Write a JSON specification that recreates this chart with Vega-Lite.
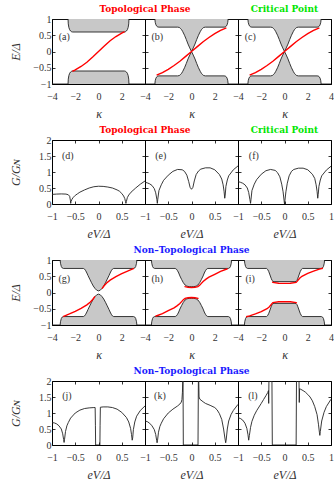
{
"$schema": "https://vega.github.io/schema/vega-lite/v6.json",
"padding": {"left": 9, "top": 0, "right": 2, "bottom": 0},
"config": {
 "view": {"stroke": null},
 "axis": {"domain": true, "domainColor": "black", "domainWidth": 1, "grid": false, "tickSize": -3, "tickColor": "black", "tickWidth": 0.8, "labelFont": "Liberation Serif, serif", "labelFontSize": 10, "labelColor": "#333", "labelPadding": 4, "labelFlush": false, "labelOverlap": false, "titleFont": "Liberation Serif, serif", "titleFontStyle": "italic", "titleFontWeight": "normal", "titleFontSize": 12, "titleColor": "#333", "format": "~g", "zindex": 1},
 "axisY": {"minExtent": 26, "maxExtent": 26, "titlePadding": 4},
 "axisX": {"titlePadding": 7, "labelPadding": 10},
 "title": {"font": "DejaVu Serif, serif", "fontSize": 9, "fontWeight": "bold", "offset": 5, "anchor": "middle", "frame": "group"}
},
"datasets": {
"band": [
{"p":"a","s":"t","k":-4,"v":1},{"p":"a","s":"t","k":-2.62,"v":1},{"p":"a","s":"t","k":-2.6,"v":0.85},{"p":"a","s":"t","k":-2.55,"v":0.74},{"p":"a","s":"t","k":-2.48,"v":0.67},{"p":"a","s":"t","k":-2.4,"v":0.63},{"p":"a","s":"t","k":-2.3,"v":0.605},{"p":"a","s":"t","k":-2.22,"v":0.6},{"p":"a","s":"t","k":2.22,"v":0.6},{"p":"a","s":"t","k":2.3,"v":0.605},{"p":"a","s":"t","k":2.4,"v":0.63},{"p":"a","s":"t","k":2.48,"v":0.67},{"p":"a","s":"t","k":2.55,"v":0.74},{"p":"a","s":"t","k":2.6,"v":0.85},{"p":"a","s":"t","k":2.62,"v":1},{"p":"a","s":"t","k":4,"v":1},
{"p":"a","s":"b","k":-4,"v":-1},{"p":"a","s":"b","k":-2.62,"v":-1},{"p":"a","s":"b","k":-2.6,"v":-0.85},{"p":"a","s":"b","k":-2.55,"v":-0.74},{"p":"a","s":"b","k":-2.48,"v":-0.67},{"p":"a","s":"b","k":-2.4,"v":-0.63},{"p":"a","s":"b","k":-2.3,"v":-0.605},{"p":"a","s":"b","k":-2.22,"v":-0.6},{"p":"a","s":"b","k":2.22,"v":-0.6},{"p":"a","s":"b","k":2.3,"v":-0.605},{"p":"a","s":"b","k":2.4,"v":-0.63},{"p":"a","s":"b","k":2.48,"v":-0.67},{"p":"a","s":"b","k":2.55,"v":-0.74},{"p":"a","s":"b","k":2.6,"v":-0.85},{"p":"a","s":"b","k":2.62,"v":-1},{"p":"a","s":"b","k":4,"v":-1},
{"p":"b","s":"t","k":-4,"v":1},{"p":"b","s":"t","k":-3.15,"v":1},{"p":"b","s":"t","k":-3.12,"v":0.9},{"p":"b","s":"t","k":-3.06,"v":0.82},{"p":"b","s":"t","k":-2.98,"v":0.775},{"p":"b","s":"t","k":-2.9,"v":0.755},{"p":"b","s":"t","k":-2.8,"v":0.75},{"p":"b","s":"t","k":-1.2,"v":0.75},{"p":"b","s":"t","k":-1.05,"v":0.74},{"p":"b","s":"t","k":-0.95,"v":0.71},{"p":"b","s":"t","k":-0.85,"v":0.67},{"p":"b","s":"t","k":-0.75,"v":0.61},{"p":"b","s":"t","k":-0.6,"v":0.5},{"p":"b","s":"t","k":-0.45,"v":0.37},{"p":"b","s":"t","k":-0.3,"v":0.23},{"p":"b","s":"t","k":-0.15,"v":0.11},{"p":"b","s":"t","k":0,"v":0},{"p":"b","s":"t","k":0.15,"v":0.11},{"p":"b","s":"t","k":0.3,"v":0.23},{"p":"b","s":"t","k":0.45,"v":0.37},{"p":"b","s":"t","k":0.6,"v":0.5},{"p":"b","s":"t","k":0.75,"v":0.61},{"p":"b","s":"t","k":0.85,"v":0.67},{"p":"b","s":"t","k":0.95,"v":0.71},{"p":"b","s":"t","k":1.05,"v":0.74},{"p":"b","s":"t","k":1.2,"v":0.75},{"p":"b","s":"t","k":2.8,"v":0.75},{"p":"b","s":"t","k":2.9,"v":0.755},{"p":"b","s":"t","k":2.98,"v":0.775},{"p":"b","s":"t","k":3.06,"v":0.82},{"p":"b","s":"t","k":3.12,"v":0.9},{"p":"b","s":"t","k":3.15,"v":1},{"p":"b","s":"t","k":4,"v":1},
{"p":"b","s":"b","k":-4,"v":-1},{"p":"b","s":"b","k":-3.15,"v":-1},{"p":"b","s":"b","k":-3.12,"v":-0.9},{"p":"b","s":"b","k":-3.06,"v":-0.82},{"p":"b","s":"b","k":-2.98,"v":-0.775},{"p":"b","s":"b","k":-2.9,"v":-0.755},{"p":"b","s":"b","k":-2.8,"v":-0.75},{"p":"b","s":"b","k":-1.2,"v":-0.75},{"p":"b","s":"b","k":-1.05,"v":-0.74},{"p":"b","s":"b","k":-0.95,"v":-0.71},{"p":"b","s":"b","k":-0.85,"v":-0.67},{"p":"b","s":"b","k":-0.75,"v":-0.61},{"p":"b","s":"b","k":-0.6,"v":-0.5},{"p":"b","s":"b","k":-0.45,"v":-0.37},{"p":"b","s":"b","k":-0.3,"v":-0.23},{"p":"b","s":"b","k":-0.15,"v":-0.11},{"p":"b","s":"b","k":0,"v":0},{"p":"b","s":"b","k":0.15,"v":-0.11},{"p":"b","s":"b","k":0.3,"v":-0.23},{"p":"b","s":"b","k":0.45,"v":-0.37},{"p":"b","s":"b","k":0.6,"v":-0.5},{"p":"b","s":"b","k":0.75,"v":-0.61},{"p":"b","s":"b","k":0.85,"v":-0.67},{"p":"b","s":"b","k":0.95,"v":-0.71},{"p":"b","s":"b","k":1.05,"v":-0.74},{"p":"b","s":"b","k":1.2,"v":-0.75},{"p":"b","s":"b","k":2.8,"v":-0.75},{"p":"b","s":"b","k":2.9,"v":-0.755},{"p":"b","s":"b","k":2.98,"v":-0.775},{"p":"b","s":"b","k":3.06,"v":-0.82},{"p":"b","s":"b","k":3.12,"v":-0.9},{"p":"b","s":"b","k":3.15,"v":-1},{"p":"b","s":"b","k":4,"v":-1},
{"p":"g","s":"t","k":-4,"v":1},{"p":"g","s":"t","k":-3.3,"v":1},{"p":"g","s":"t","k":-3.27,"v":0.9},{"p":"g","s":"t","k":-3.2,"v":0.8},{"p":"g","s":"t","k":-3.12,"v":0.755},{"p":"g","s":"t","k":-3.02,"v":0.74},{"p":"g","s":"t","k":-1.3,"v":0.74},{"p":"g","s":"t","k":-1.2,"v":0.72},{"p":"g","s":"t","k":-1.1,"v":0.67},{"p":"g","s":"t","k":-1.0,"v":0.6},{"p":"g","s":"t","k":-0.9,"v":0.52},{"p":"g","s":"t","k":-0.75,"v":0.41},{"p":"g","s":"t","k":-0.6,"v":0.3},{"p":"g","s":"t","k":-0.45,"v":0.2},{"p":"g","s":"t","k":-0.3,"v":0.125},{"p":"g","s":"t","k":-0.15,"v":0.07},{"p":"g","s":"t","k":0,"v":0.05},{"p":"g","s":"t","k":0.15,"v":0.07},{"p":"g","s":"t","k":0.3,"v":0.125},{"p":"g","s":"t","k":0.45,"v":0.2},{"p":"g","s":"t","k":0.6,"v":0.3},{"p":"g","s":"t","k":0.75,"v":0.41},{"p":"g","s":"t","k":0.9,"v":0.52},{"p":"g","s":"t","k":1.0,"v":0.6},{"p":"g","s":"t","k":1.1,"v":0.67},{"p":"g","s":"t","k":1.2,"v":0.72},{"p":"g","s":"t","k":1.3,"v":0.74},{"p":"g","s":"t","k":3.02,"v":0.74},{"p":"g","s":"t","k":3.12,"v":0.755},{"p":"g","s":"t","k":3.2,"v":0.8},{"p":"g","s":"t","k":3.27,"v":0.9},{"p":"g","s":"t","k":3.3,"v":1},{"p":"g","s":"t","k":4,"v":1},
{"p":"g","s":"b","k":-4,"v":-1},{"p":"g","s":"b","k":-3.3,"v":-1},{"p":"g","s":"b","k":-3.27,"v":-0.9},{"p":"g","s":"b","k":-3.2,"v":-0.8},{"p":"g","s":"b","k":-3.12,"v":-0.755},{"p":"g","s":"b","k":-3.02,"v":-0.74},{"p":"g","s":"b","k":-1.3,"v":-0.74},{"p":"g","s":"b","k":-1.2,"v":-0.72},{"p":"g","s":"b","k":-1.1,"v":-0.67},{"p":"g","s":"b","k":-1.0,"v":-0.6},{"p":"g","s":"b","k":-0.9,"v":-0.52},{"p":"g","s":"b","k":-0.75,"v":-0.41},{"p":"g","s":"b","k":-0.6,"v":-0.3},{"p":"g","s":"b","k":-0.45,"v":-0.2},{"p":"g","s":"b","k":-0.3,"v":-0.125},{"p":"g","s":"b","k":-0.15,"v":-0.07},{"p":"g","s":"b","k":0,"v":-0.05},{"p":"g","s":"b","k":0.15,"v":-0.07},{"p":"g","s":"b","k":0.3,"v":-0.125},{"p":"g","s":"b","k":0.45,"v":-0.2},{"p":"g","s":"b","k":0.6,"v":-0.3},{"p":"g","s":"b","k":0.75,"v":-0.41},{"p":"g","s":"b","k":0.9,"v":-0.52},{"p":"g","s":"b","k":1.0,"v":-0.6},{"p":"g","s":"b","k":1.1,"v":-0.67},{"p":"g","s":"b","k":1.2,"v":-0.72},{"p":"g","s":"b","k":1.3,"v":-0.74},{"p":"g","s":"b","k":3.02,"v":-0.74},{"p":"g","s":"b","k":3.12,"v":-0.755},{"p":"g","s":"b","k":3.2,"v":-0.8},{"p":"g","s":"b","k":3.27,"v":-0.9},{"p":"g","s":"b","k":3.3,"v":-1},{"p":"g","s":"b","k":4,"v":-1},
{"p":"h","s":"t","k":-4,"v":1},{"p":"h","s":"t","k":-3.45,"v":1},{"p":"h","s":"t","k":-3.42,"v":0.9},{"p":"h","s":"t","k":-3.35,"v":0.8},{"p":"h","s":"t","k":-3.27,"v":0.755},{"p":"h","s":"t","k":-3.17,"v":0.74},{"p":"h","s":"t","k":-1.4,"v":0.74},{"p":"h","s":"t","k":-1.3,"v":0.72},{"p":"h","s":"t","k":-1.2,"v":0.67},{"p":"h","s":"t","k":-1.1,"v":0.6},{"p":"h","s":"t","k":-1.0,"v":0.51},{"p":"h","s":"t","k":-0.85,"v":0.4},{"p":"h","s":"t","k":-0.7,"v":0.3},{"p":"h","s":"t","k":-0.55,"v":0.23},{"p":"h","s":"t","k":-0.4,"v":0.195},{"p":"h","s":"t","k":-0.2,"v":0.18},{"p":"h","s":"t","k":0,"v":0.18},{"p":"h","s":"t","k":0.2,"v":0.18},{"p":"h","s":"t","k":0.4,"v":0.195},{"p":"h","s":"t","k":0.55,"v":0.23},{"p":"h","s":"t","k":0.7,"v":0.3},{"p":"h","s":"t","k":0.85,"v":0.4},{"p":"h","s":"t","k":1.0,"v":0.51},{"p":"h","s":"t","k":1.1,"v":0.6},{"p":"h","s":"t","k":1.2,"v":0.67},{"p":"h","s":"t","k":1.3,"v":0.72},{"p":"h","s":"t","k":1.4,"v":0.74},{"p":"h","s":"t","k":3.17,"v":0.74},{"p":"h","s":"t","k":3.27,"v":0.755},{"p":"h","s":"t","k":3.35,"v":0.8},{"p":"h","s":"t","k":3.42,"v":0.9},{"p":"h","s":"t","k":3.45,"v":1},{"p":"h","s":"t","k":4,"v":1},
{"p":"h","s":"b","k":-4,"v":-1},{"p":"h","s":"b","k":-3.45,"v":-1},{"p":"h","s":"b","k":-3.42,"v":-0.9},{"p":"h","s":"b","k":-3.35,"v":-0.8},{"p":"h","s":"b","k":-3.27,"v":-0.755},{"p":"h","s":"b","k":-3.17,"v":-0.74},{"p":"h","s":"b","k":-1.4,"v":-0.74},{"p":"h","s":"b","k":-1.3,"v":-0.72},{"p":"h","s":"b","k":-1.2,"v":-0.67},{"p":"h","s":"b","k":-1.1,"v":-0.6},{"p":"h","s":"b","k":-1.0,"v":-0.51},{"p":"h","s":"b","k":-0.85,"v":-0.4},{"p":"h","s":"b","k":-0.7,"v":-0.3},{"p":"h","s":"b","k":-0.55,"v":-0.23},{"p":"h","s":"b","k":-0.4,"v":-0.195},{"p":"h","s":"b","k":-0.2,"v":-0.18},{"p":"h","s":"b","k":0,"v":-0.18},{"p":"h","s":"b","k":0.2,"v":-0.18},{"p":"h","s":"b","k":0.4,"v":-0.195},{"p":"h","s":"b","k":0.55,"v":-0.23},{"p":"h","s":"b","k":0.7,"v":-0.3},{"p":"h","s":"b","k":0.85,"v":-0.4},{"p":"h","s":"b","k":1.0,"v":-0.51},{"p":"h","s":"b","k":1.1,"v":-0.6},{"p":"h","s":"b","k":1.2,"v":-0.67},{"p":"h","s":"b","k":1.3,"v":-0.72},{"p":"h","s":"b","k":1.4,"v":-0.74},{"p":"h","s":"b","k":3.17,"v":-0.74},{"p":"h","s":"b","k":3.27,"v":-0.755},{"p":"h","s":"b","k":3.35,"v":-0.8},{"p":"h","s":"b","k":3.42,"v":-0.9},{"p":"h","s":"b","k":3.45,"v":-1},{"p":"h","s":"b","k":4,"v":-1},
{"p":"i","s":"t","k":-4,"v":1},{"p":"i","s":"t","k":-3.45,"v":1},{"p":"i","s":"t","k":-3.42,"v":0.9},{"p":"i","s":"t","k":-3.35,"v":0.8},{"p":"i","s":"t","k":-3.27,"v":0.755},{"p":"i","s":"t","k":-3.17,"v":0.74},{"p":"i","s":"t","k":-1.55,"v":0.74},{"p":"i","s":"t","k":-1.45,"v":0.71},{"p":"i","s":"t","k":-1.35,"v":0.64},{"p":"i","s":"t","k":-1.25,"v":0.54},{"p":"i","s":"t","k":-1.15,"v":0.44},{"p":"i","s":"t","k":-1.07,"v":0.37},{"p":"i","s":"t","k":-1.0,"v":0.345},{"p":"i","s":"t","k":-0.9,"v":0.335},{"p":"i","s":"t","k":0.9,"v":0.335},{"p":"i","s":"t","k":1.0,"v":0.345},{"p":"i","s":"t","k":1.07,"v":0.37},{"p":"i","s":"t","k":1.15,"v":0.44},{"p":"i","s":"t","k":1.25,"v":0.54},{"p":"i","s":"t","k":1.35,"v":0.64},{"p":"i","s":"t","k":1.45,"v":0.71},{"p":"i","s":"t","k":1.55,"v":0.74},{"p":"i","s":"t","k":3.17,"v":0.74},{"p":"i","s":"t","k":3.27,"v":0.755},{"p":"i","s":"t","k":3.35,"v":0.8},{"p":"i","s":"t","k":3.42,"v":0.9},{"p":"i","s":"t","k":3.45,"v":1},{"p":"i","s":"t","k":4,"v":1},
{"p":"i","s":"b","k":-4,"v":-1},{"p":"i","s":"b","k":-3.45,"v":-1},{"p":"i","s":"b","k":-3.42,"v":-0.9},{"p":"i","s":"b","k":-3.35,"v":-0.8},{"p":"i","s":"b","k":-3.27,"v":-0.755},{"p":"i","s":"b","k":-3.17,"v":-0.74},{"p":"i","s":"b","k":-1.55,"v":-0.74},{"p":"i","s":"b","k":-1.45,"v":-0.71},{"p":"i","s":"b","k":-1.35,"v":-0.64},{"p":"i","s":"b","k":-1.25,"v":-0.54},{"p":"i","s":"b","k":-1.15,"v":-0.44},{"p":"i","s":"b","k":-1.07,"v":-0.37},{"p":"i","s":"b","k":-1.0,"v":-0.345},{"p":"i","s":"b","k":-0.9,"v":-0.335},{"p":"i","s":"b","k":0.9,"v":-0.335},{"p":"i","s":"b","k":1.0,"v":-0.345},{"p":"i","s":"b","k":1.07,"v":-0.37},{"p":"i","s":"b","k":1.15,"v":-0.44},{"p":"i","s":"b","k":1.25,"v":-0.54},{"p":"i","s":"b","k":1.35,"v":-0.64},{"p":"i","s":"b","k":1.45,"v":-0.71},{"p":"i","s":"b","k":1.55,"v":-0.74},{"p":"i","s":"b","k":3.17,"v":-0.74},{"p":"i","s":"b","k":3.27,"v":-0.755},{"p":"i","s":"b","k":3.35,"v":-0.8},{"p":"i","s":"b","k":3.42,"v":-0.9},{"p":"i","s":"b","k":3.45,"v":-1},{"p":"i","s":"b","k":4,"v":-1}
],
"red": [
{"p":"a","q":1,"k":-2.25,"v":-0.61},{"p":"a","q":1,"k":-2,"v":-0.565},{"p":"a","q":1,"k":-1.5,"v":-0.46},{"p":"a","q":1,"k":-1,"v":-0.33},{"p":"a","q":1,"k":-0.5,"v":-0.17},{"p":"a","q":1,"k":0,"v":0},{"p":"a","q":1,"k":0.5,"v":0.17},{"p":"a","q":1,"k":1,"v":0.33},{"p":"a","q":1,"k":1.5,"v":0.46},{"p":"a","q":1,"k":2,"v":0.565},{"p":"a","q":1,"k":2.25,"v":0.61},
{"p":"b","q":1,"k":-3.0,"v":-0.73},{"p":"b","q":1,"k":-2.5,"v":-0.65},{"p":"b","q":1,"k":-2,"v":-0.55},{"p":"b","q":1,"k":-1.5,"v":-0.43},{"p":"b","q":1,"k":-1,"v":-0.3},{"p":"b","q":1,"k":-0.5,"v":-0.15},{"p":"b","q":1,"k":0,"v":0},{"p":"b","q":1,"k":0.5,"v":0.15},{"p":"b","q":1,"k":1,"v":0.3},{"p":"b","q":1,"k":1.5,"v":0.43},{"p":"b","q":1,"k":2,"v":0.55},{"p":"b","q":1,"k":2.5,"v":0.65},{"p":"b","q":1,"k":3.0,"v":0.73},
{"p":"g","q":1,"k":-3.05,"v":-0.74},{"p":"g","q":1,"k":-2.5,"v":-0.66},{"p":"g","q":1,"k":-2,"v":-0.58},{"p":"g","q":1,"k":-1.5,"v":-0.49},{"p":"g","q":1,"k":-1,"v":-0.38},{"p":"g","q":1,"k":-0.7,"v":-0.29},{"p":"g","q":1,"k":-0.5,"v":-0.215},{"p":"g","q":1,"k":-0.3,"v":-0.12},
{"p":"g","q":2,"k":0.3,"v":0.12},{"p":"g","q":2,"k":0.5,"v":0.215},{"p":"g","q":2,"k":0.7,"v":0.29},{"p":"g","q":2,"k":1,"v":0.38},{"p":"g","q":2,"k":1.5,"v":0.49},{"p":"g","q":2,"k":2,"v":0.58},{"p":"g","q":2,"k":2.5,"v":0.66},{"p":"g","q":2,"k":3.05,"v":0.74},
{"p":"h","q":1,"k":-3.1,"v":-0.73},{"p":"h","q":1,"k":-2.5,"v":-0.65},{"p":"h","q":1,"k":-2,"v":-0.56},{"p":"h","q":1,"k":-1.5,"v":-0.47},{"p":"h","q":1,"k":-1.25,"v":-0.41},{"p":"h","q":1,"k":-1,"v":-0.34},{"p":"h","q":1,"k":-0.85,"v":-0.28},{"p":"h","q":1,"k":-0.7,"v":-0.22},{"p":"h","q":1,"k":-0.55,"v":-0.18},{"p":"h","q":1,"k":-0.3,"v":-0.16},{"p":"h","q":1,"k":0,"v":-0.155},{"p":"h","q":1,"k":0.3,"v":-0.16},{"p":"h","q":1,"k":0.55,"v":-0.18},{"p":"h","q":1,"k":0.6,"v":-0.19},
{"p":"h","q":2,"k":-0.6,"v":0.19},{"p":"h","q":2,"k":-0.55,"v":0.18},{"p":"h","q":2,"k":-0.3,"v":0.16},{"p":"h","q":2,"k":0,"v":0.155},{"p":"h","q":2,"k":0.3,"v":0.16},{"p":"h","q":2,"k":0.55,"v":0.18},{"p":"h","q":2,"k":0.7,"v":0.22},{"p":"h","q":2,"k":0.85,"v":0.28},{"p":"h","q":2,"k":1,"v":0.34},{"p":"h","q":2,"k":1.25,"v":0.41},{"p":"h","q":2,"k":1.5,"v":0.47},{"p":"h","q":2,"k":2,"v":0.56},{"p":"h","q":2,"k":2.5,"v":0.65},{"p":"h","q":2,"k":3.1,"v":0.73},
{"p":"i","q":1,"k":-3.3,"v":-0.745},{"p":"i","q":1,"k":-3,"v":-0.72},{"p":"i","q":1,"k":-2.5,"v":-0.66},{"p":"i","q":1,"k":-2,"v":-0.59},{"p":"i","q":1,"k":-1.5,"v":-0.5},{"p":"i","q":1,"k":-1.3,"v":-0.44},{"p":"i","q":1,"k":-1.1,"v":-0.35},{"p":"i","q":1,"k":-1,"v":-0.31},{"p":"i","q":1,"k":-0.5,"v":-0.285},{"p":"i","q":1,"k":0,"v":-0.28},{"p":"i","q":1,"k":0.5,"v":-0.285},{"p":"i","q":1,"k":1,"v":-0.31},{"p":"i","q":1,"k":1.05,"v":-0.33},
{"p":"i","q":2,"k":-1.05,"v":0.33},{"p":"i","q":2,"k":-1,"v":0.31},{"p":"i","q":2,"k":-0.5,"v":0.285},{"p":"i","q":2,"k":0,"v":0.28},{"p":"i","q":2,"k":0.5,"v":0.285},{"p":"i","q":2,"k":1,"v":0.31},{"p":"i","q":2,"k":1.1,"v":0.35},{"p":"i","q":2,"k":1.3,"v":0.44},{"p":"i","q":2,"k":1.5,"v":0.5},{"p":"i","q":2,"k":2,"v":0.59},{"p":"i","q":2,"k":2.5,"v":0.66},{"p":"i","q":2,"k":3,"v":0.72},{"p":"i","q":2,"k":3.3,"v":0.745}
],
"cond": [
{"p":"d","k":-1,"v":0.3},{"p":"d","k":-0.9,"v":0.31},{"p":"d","k":-0.8,"v":0.315},{"p":"d","k":-0.7,"v":0.31},{"p":"d","k":-0.65,"v":0.29},{"p":"d","k":-0.62,"v":0.24},{"p":"d","k":-0.605,"v":0.12},{"p":"d","k":-0.598,"v":0.02},{"p":"d","k":-0.59,"v":0.08},{"p":"d","k":-0.57,"v":0.15},{"p":"d","k":-0.54,"v":0.21},{"p":"d","k":-0.5,"v":0.27},{"p":"d","k":-0.45,"v":0.32},{"p":"d","k":-0.4,"v":0.37},{"p":"d","k":-0.3,"v":0.44},{"p":"d","k":-0.2,"v":0.5},{"p":"d","k":-0.1,"v":0.54},{"p":"d","k":0,"v":0.555},{"p":"d","k":0.1,"v":0.55},{"p":"d","k":0.2,"v":0.53},{"p":"d","k":0.3,"v":0.5},{"p":"d","k":0.4,"v":0.44},{"p":"d","k":0.45,"v":0.4},{"p":"d","k":0.5,"v":0.33},{"p":"d","k":0.54,"v":0.25},{"p":"d","k":0.565,"v":0.17},{"p":"d","k":0.58,"v":0.08},{"p":"d","k":0.59,"v":0.02},{"p":"d","k":0.6,"v":0.08},{"p":"d","k":0.62,"v":0.2},{"p":"d","k":0.65,"v":0.28},{"p":"d","k":0.7,"v":0.37},{"p":"d","k":0.8,"v":0.5},{"p":"d","k":0.9,"v":0.62},{"p":"d","k":1,"v":0.72},
{"p":"e","k":-1,"v":0.68},{"p":"e","k":-0.95,"v":0.66},{"p":"e","k":-0.9,"v":0.63},{"p":"e","k":-0.85,"v":0.58},{"p":"e","k":-0.8,"v":0.48},{"p":"e","k":-0.77,"v":0.35},{"p":"e","k":-0.745,"v":0.15},{"p":"e","k":-0.735,"v":0.02},{"p":"e","k":-0.725,"v":0.15},{"p":"e","k":-0.7,"v":0.42},{"p":"e","k":-0.65,"v":0.6},{"p":"e","k":-0.6,"v":0.74},{"p":"e","k":-0.5,"v":0.9},{"p":"e","k":-0.4,"v":1.02},{"p":"e","k":-0.3,"v":1.08},{"p":"e","k":-0.2,"v":1.07},{"p":"e","k":-0.15,"v":1.02},{"p":"e","k":-0.1,"v":0.9},{"p":"e","k":-0.06,"v":0.7},{"p":"e","k":-0.03,"v":0.52},{"p":"e","k":0,"v":0.46},{"p":"e","k":0.03,"v":0.52},{"p":"e","k":0.06,"v":0.72},{"p":"e","k":0.1,"v":0.92},{"p":"e","k":0.15,"v":1.03},{"p":"e","k":0.2,"v":1.09},{"p":"e","k":0.3,"v":1.13},{"p":"e","k":0.4,"v":1.13},{"p":"e","k":0.5,"v":1.07},{"p":"e","k":0.6,"v":0.92},{"p":"e","k":0.65,"v":0.78},{"p":"e","k":0.68,"v":0.6},{"p":"e","k":0.7,"v":0.4},{"p":"e","k":0.715,"v":0.18},{"p":"e","k":0.725,"v":0.28},{"p":"e","k":0.74,"v":0.55},{"p":"e","k":0.77,"v":0.75},{"p":"e","k":0.8,"v":0.88},{"p":"e","k":0.9,"v":1.07},{"p":"e","k":1,"v":1.19},
{"p":"f","k":-1,"v":0.7},{"p":"f","k":-0.95,"v":0.68},{"p":"f","k":-0.9,"v":0.65},{"p":"f","k":-0.85,"v":0.6},{"p":"f","k":-0.8,"v":0.5},{"p":"f","k":-0.77,"v":0.36},{"p":"f","k":-0.745,"v":0.15},{"p":"f","k":-0.73,"v":0.02},{"p":"f","k":-0.72,"v":0.15},{"p":"f","k":-0.7,"v":0.42},{"p":"f","k":-0.65,"v":0.62},{"p":"f","k":-0.6,"v":0.76},{"p":"f","k":-0.5,"v":0.93},{"p":"f","k":-0.4,"v":1.04},{"p":"f","k":-0.3,"v":1.08},{"p":"f","k":-0.2,"v":1.05},{"p":"f","k":-0.15,"v":0.98},{"p":"f","k":-0.1,"v":0.85},{"p":"f","k":-0.06,"v":0.62},{"p":"f","k":-0.03,"v":0.38},{"p":"f","k":-0.01,"v":0.12},{"p":"f","k":0,"v":0},{"p":"f","k":0.01,"v":0.12},{"p":"f","k":0.03,"v":0.38},{"p":"f","k":0.06,"v":0.65},{"p":"f","k":0.1,"v":0.88},{"p":"f","k":0.15,"v":1.02},{"p":"f","k":0.2,"v":1.08},{"p":"f","k":0.3,"v":1.12},{"p":"f","k":0.4,"v":1.12},{"p":"f","k":0.5,"v":1.07},{"p":"f","k":0.6,"v":0.93},{"p":"f","k":0.65,"v":0.8},{"p":"f","k":0.68,"v":0.6},{"p":"f","k":0.7,"v":0.4},{"p":"f","k":0.715,"v":0.18},{"p":"f","k":0.725,"v":0.3},{"p":"f","k":0.74,"v":0.55},{"p":"f","k":0.77,"v":0.75},{"p":"f","k":0.8,"v":0.88},{"p":"f","k":0.9,"v":1.06},{"p":"f","k":1,"v":1.18},
{"p":"j","k":-1,"v":0.7},{"p":"j","k":-0.95,"v":0.69},{"p":"j","k":-0.9,"v":0.66},{"p":"j","k":-0.85,"v":0.6},{"p":"j","k":-0.8,"v":0.5},{"p":"j","k":-0.77,"v":0.35},{"p":"j","k":-0.75,"v":0.17},{"p":"j","k":-0.74,"v":0.08},{"p":"j","k":-0.73,"v":0.18},{"p":"j","k":-0.71,"v":0.42},{"p":"j","k":-0.68,"v":0.6},{"p":"j","k":-0.65,"v":0.7},{"p":"j","k":-0.6,"v":0.84},{"p":"j","k":-0.5,"v":1.0},{"p":"j","k":-0.4,"v":1.09},{"p":"j","k":-0.3,"v":1.14},{"p":"j","k":-0.2,"v":1.16},{"p":"j","k":-0.1,"v":1.17},{"p":"j","k":-0.072,"v":1.17},{"p":"j","k":-0.066,"v":0.6},{"p":"j","k":-0.062,"v":0},{"p":"j","k":0.03,"v":0},{"p":"j","k":0.034,"v":0.6},{"p":"j","k":0.04,"v":1.18},{"p":"j","k":0.1,"v":1.19},{"p":"j","k":0.2,"v":1.19},{"p":"j","k":0.3,"v":1.17},{"p":"j","k":0.4,"v":1.12},{"p":"j","k":0.5,"v":1.02},{"p":"j","k":0.6,"v":0.86},{"p":"j","k":0.65,"v":0.72},{"p":"j","k":0.69,"v":0.52},{"p":"j","k":0.71,"v":0.33},{"p":"j","k":0.725,"v":0.15},{"p":"j","k":0.735,"v":0.22},{"p":"j","k":0.75,"v":0.48},{"p":"j","k":0.78,"v":0.72},{"p":"j","k":0.82,"v":0.9},{"p":"j","k":0.9,"v":1.08},{"p":"j","k":1,"v":1.22},
{"p":"k","k":-1,"v":0.75},{"p":"k","k":-0.95,"v":0.73},{"p":"k","k":-0.9,"v":0.68},{"p":"k","k":-0.85,"v":0.6},{"p":"k","k":-0.8,"v":0.48},{"p":"k","k":-0.77,"v":0.33},{"p":"k","k":-0.75,"v":0.15},{"p":"k","k":-0.74,"v":0.07},{"p":"k","k":-0.73,"v":0.15},{"p":"k","k":-0.71,"v":0.4},{"p":"k","k":-0.68,"v":0.58},{"p":"k","k":-0.65,"v":0.68},{"p":"k","k":-0.6,"v":0.82},{"p":"k","k":-0.5,"v":1.0},{"p":"k","k":-0.4,"v":1.12},{"p":"k","k":-0.3,"v":1.22},{"p":"k","k":-0.25,"v":1.28},{"p":"k","k":-0.22,"v":1.34},{"p":"k","k":-0.205,"v":1.42},{"p":"k","k":-0.195,"v":1.65},{"p":"k","k":-0.188,"v":2},{"p":"k","k":-0.182,"v":2},{"p":"k","k":-0.176,"v":0},{"p":"k","k":0.14,"v":0},{"p":"k","k":0.148,"v":2},{"p":"k","k":0.156,"v":2},{"p":"k","k":0.162,"v":1.5},{"p":"k","k":0.18,"v":1.43},{"p":"k","k":0.25,"v":1.35},{"p":"k","k":0.3,"v":1.3},{"p":"k","k":0.4,"v":1.24},{"p":"k","k":0.5,"v":1.17},{"p":"k","k":0.55,"v":1.1},{"p":"k","k":0.6,"v":0.98},{"p":"k","k":0.65,"v":0.8},{"p":"k","k":0.69,"v":0.5},{"p":"k","k":0.715,"v":0.25},{"p":"k","k":0.735,"v":0.07},{"p":"k","k":0.745,"v":0.15},{"p":"k","k":0.77,"v":0.5},{"p":"k","k":0.8,"v":0.75},{"p":"k","k":0.85,"v":0.95},{"p":"k","k":0.9,"v":1.08},{"p":"k","k":1,"v":1.27},
{"p":"l","k":-1,"v":0.85},{"p":"l","k":-0.95,"v":0.83},{"p":"l","k":-0.9,"v":0.78},{"p":"l","k":-0.85,"v":0.68},{"p":"l","k":-0.81,"v":0.52},{"p":"l","k":-0.785,"v":0.32},{"p":"l","k":-0.77,"v":0.15},{"p":"l","k":-0.755,"v":0.3},{"p":"l","k":-0.73,"v":0.55},{"p":"l","k":-0.7,"v":0.74},{"p":"l","k":-0.65,"v":0.93},{"p":"l","k":-0.6,"v":1.07},{"p":"l","k":-0.5,"v":1.3},{"p":"l","k":-0.45,"v":1.42},{"p":"l","k":-0.4,"v":1.54},{"p":"l","k":-0.36,"v":1.64},{"p":"l","k":-0.345,"v":1.7},{"p":"l","k":-0.34,"v":1.3},{"p":"l","k":-0.335,"v":2},{"p":"l","k":-0.27,"v":2},{"p":"l","k":-0.262,"v":0},{"p":"l","k":0.25,"v":0},{"p":"l","k":0.258,"v":2},{"p":"l","k":0.312,"v":2},{"p":"l","k":0.318,"v":1.33},{"p":"l","k":0.324,"v":1.76},{"p":"l","k":0.35,"v":1.74},{"p":"l","k":0.4,"v":1.7},{"p":"l","k":0.45,"v":1.65},{"p":"l","k":0.5,"v":1.58},{"p":"l","k":0.55,"v":1.5},{"p":"l","k":0.6,"v":1.38},{"p":"l","k":0.65,"v":1.2},{"p":"l","k":0.7,"v":0.95},{"p":"l","k":0.73,"v":0.65},{"p":"l","k":0.75,"v":0.4},{"p":"l","k":0.76,"v":0.3},{"p":"l","k":0.77,"v":0.42},{"p":"l","k":0.8,"v":0.75},{"p":"l","k":0.85,"v":1.02},{"p":"l","k":0.9,"v":1.2},{"p":"l","k":1,"v":1.43}
],
"lab": [
{"p":"a","k":-2.95,"v":0.45,"t":"(a)"},{"p":"b","k":-2.95,"v":0.45,"t":"(b)"},{"p":"c","k":-2.95,"v":0.45,"t":"(c)"},
{"p":"d","k":-0.66,"v":1.5,"t":"(d)"},{"p":"e","k":-0.66,"v":1.5,"t":"(e)"},{"p":"f","k":-0.66,"v":1.5,"t":"(f)"},
{"p":"g","k":-2.95,"v":0.42,"t":"(g)"},{"p":"h","k":-2.95,"v":0.42,"t":"(h)"},{"p":"i","k":-2.95,"v":0.42,"t":"(i)"},
{"p":"j","k":-0.68,"v":1.53,"t":"(j)"},{"p":"k","k":-0.68,"v":1.53,"t":"(k)"},{"p":"l","k":-0.68,"v":1.53,"t":"(l)"}
]
},
"spacing": 2,
"vconcat": [
{"hconcat": [
 {"width": 93, "height": 65, "title": {"text": " "},
  "layer": [
   {"data": {"name": "band"}, "transform": [{"filter": "datum.p=='a' && datum.s=='t'"}], "mark": {"type": "area", "color": "#c8c8c8", "clip": true},
    "encoding": {"x": {"field": "k", "type": "quantitative", "scale": {"domain": [-4, 4]}, "axis": {"orient": "bottom", "values": [-4, -2, 0, 2], "title": "κ"}},
     "y": {"field": "v", "type": "quantitative", "scale": {"domain": [-1, 1]}, "axis": {"orient": "left", "values": [-1, -0.5, 0, 0.5, 1], "title": "E/Δ"}}, "y2": {"datum": 1}}},
   {"data": {"name": "band"}, "transform": [{"filter": "datum.p=='a' && datum.s=='b'"}], "mark": {"type": "area", "color": "#c8c8c8", "clip": true},
    "encoding": {"x": {"field": "k", "type": "quantitative", "scale": {"domain": [-4, 4]}, "axis": null}, "y": {"field": "v", "type": "quantitative", "scale": {"domain": [-1, 1]}, "axis": null}, "y2": {"datum": -1}}},
   {"data": {"name": "band"}, "transform": [{"filter": "datum.p=='a'"}], "mark": {"type": "line", "color": "#222", "strokeWidth": 0.9, "clip": true},
    "encoding": {"x": {"field": "k", "type": "quantitative", "scale": {"domain": [-4, 4]}, "axis": null}, "y": {"field": "v", "type": "quantitative", "scale": {"domain": [-1, 1]}, "axis": null}, "detail": {"field": "s"}}},
   {"data": {"name": "red"}, "transform": [{"filter": "datum.p=='a'"}], "mark": {"type": "line", "color": "#ff0000", "strokeWidth": 1.4, "clip": true},
    "encoding": {"x": {"field": "k", "type": "quantitative", "scale": {"domain": [-4, 4]}, "axis": null}, "y": {"field": "v", "type": "quantitative", "scale": {"domain": [-1, 1]}, "axis": null}, "detail": {"field": "q"}}},
   {"data": {"name": "lab"}, "transform": [{"filter": "datum.p=='a'"}], "mark": {"type": "text", "font": "Liberation Serif, serif", "fontSize": 10, "color": "#333"},
    "encoding": {"x": {"field": "k", "type": "quantitative", "scale": {"domain": [-4, 4]}, "axis": {"orient": "top", "values": [-4, -2, 0, 2, 4], "labels": false, "title": null}},
     "y": {"field": "v", "type": "quantitative", "scale": {"domain": [-1, 1]}, "axis": {"orient": "right", "values": [-1, -0.5, 0, 0.5, 1], "labels": false, "title": null}}, "text": {"field": "t"}}}
  ],
  "resolve": {"axis": {"x": "independent", "y": "independent"}}},
 {"width": 93, "height": 65, "title": {"text": "Topological Phase", "color": "#ff0000", "dx": -46.5},
  "layer": [
   {"data": {"name": "band"}, "transform": [{"filter": "datum.p=='b' && datum.s=='t'"}], "mark": {"type": "area", "color": "#c8c8c8", "clip": true},
    "encoding": {"x": {"field": "k", "type": "quantitative", "scale": {"domain": [-4, 4]}, "axis": {"orient": "bottom", "values": [-4, -2, 0, 2], "title": "κ"}},
     "y": {"field": "v", "type": "quantitative", "scale": {"domain": [-1, 1]}, "axis": {"orient": "left", "values": [-1, -0.5, 0, 0.5, 1], "labels": false, "title": null}}, "y2": {"datum": 1}}},
   {"data": {"name": "band"}, "transform": [{"filter": "datum.p=='b' && datum.s=='b'"}], "mark": {"type": "area", "color": "#c8c8c8", "clip": true},
    "encoding": {"x": {"field": "k", "type": "quantitative", "scale": {"domain": [-4, 4]}, "axis": null}, "y": {"field": "v", "type": "quantitative", "scale": {"domain": [-1, 1]}, "axis": null}, "y2": {"datum": -1}}},
   {"data": {"name": "band"}, "transform": [{"filter": "datum.p=='b'"}], "mark": {"type": "line", "color": "#222", "strokeWidth": 0.9, "clip": true},
    "encoding": {"x": {"field": "k", "type": "quantitative", "scale": {"domain": [-4, 4]}, "axis": null}, "y": {"field": "v", "type": "quantitative", "scale": {"domain": [-1, 1]}, "axis": null}, "detail": {"field": "s"}}},
   {"data": {"name": "red"}, "transform": [{"filter": "datum.p=='b'"}], "mark": {"type": "line", "color": "#ff0000", "strokeWidth": 1.4, "clip": true},
    "encoding": {"x": {"field": "k", "type": "quantitative", "scale": {"domain": [-4, 4]}, "axis": null}, "y": {"field": "v", "type": "quantitative", "scale": {"domain": [-1, 1]}, "axis": null}, "detail": {"field": "q"}}},
   {"data": {"name": "lab"}, "transform": [{"filter": "datum.p=='b'"}], "mark": {"type": "text", "font": "Liberation Serif, serif", "fontSize": 10, "color": "#333"},
    "encoding": {"x": {"field": "k", "type": "quantitative", "scale": {"domain": [-4, 4]}, "axis": {"orient": "top", "values": [-4, -2, 0, 2, 4], "labels": false, "title": null}},
     "y": {"field": "v", "type": "quantitative", "scale": {"domain": [-1, 1]}, "axis": {"orient": "right", "values": [-1, -0.5, 0, 0.5, 1], "labels": false, "title": null}}, "text": {"field": "t"}}}
  ],
  "resolve": {"axis": {"x": "independent", "y": "independent"}}},
 {"width": 93, "height": 65, "title": {"text": "Critical Point", "color": "#00e600"},
  "layer": [
   {"data": {"name": "band"}, "transform": [{"filter": "datum.p=='b' && datum.s=='t'"}], "mark": {"type": "area", "color": "#c8c8c8", "clip": true},
    "encoding": {"x": {"field": "k", "type": "quantitative", "scale": {"domain": [-4, 4]}, "axis": {"orient": "bottom", "values": [-4, -2, 0, 2, 4], "title": "κ"}},
     "y": {"field": "v", "type": "quantitative", "scale": {"domain": [-1, 1]}, "axis": {"orient": "left", "values": [-1, -0.5, 0, 0.5, 1], "labels": false, "title": null}}, "y2": {"datum": 1}}},
   {"data": {"name": "band"}, "transform": [{"filter": "datum.p=='b' && datum.s=='b'"}], "mark": {"type": "area", "color": "#c8c8c8", "clip": true},
    "encoding": {"x": {"field": "k", "type": "quantitative", "scale": {"domain": [-4, 4]}, "axis": null}, "y": {"field": "v", "type": "quantitative", "scale": {"domain": [-1, 1]}, "axis": null}, "y2": {"datum": -1}}},
   {"data": {"name": "band"}, "transform": [{"filter": "datum.p=='b'"}], "mark": {"type": "line", "color": "#222", "strokeWidth": 0.9, "clip": true},
    "encoding": {"x": {"field": "k", "type": "quantitative", "scale": {"domain": [-4, 4]}, "axis": null}, "y": {"field": "v", "type": "quantitative", "scale": {"domain": [-1, 1]}, "axis": null}, "detail": {"field": "s"}}},
   {"data": {"name": "red"}, "transform": [{"filter": "datum.p=='b'"}], "mark": {"type": "line", "color": "#ff0000", "strokeWidth": 1.4, "clip": true},
    "encoding": {"x": {"field": "k", "type": "quantitative", "scale": {"domain": [-4, 4]}, "axis": null}, "y": {"field": "v", "type": "quantitative", "scale": {"domain": [-1, 1]}, "axis": null}, "detail": {"field": "q"}}},
   {"data": {"name": "lab"}, "transform": [{"filter": "datum.p=='c'"}], "mark": {"type": "text", "font": "Liberation Serif, serif", "fontSize": 10, "color": "#333"},
    "encoding": {"x": {"field": "k", "type": "quantitative", "scale": {"domain": [-4, 4]}, "axis": {"orient": "top", "values": [-4, -2, 0, 2, 4], "labels": false, "title": null}},
     "y": {"field": "v", "type": "quantitative", "scale": {"domain": [-1, 1]}, "axis": {"orient": "right", "values": [-1, -0.5, 0, 0.5, 1], "labels": false, "title": null}}, "text": {"field": "t"}}}
  ],
  "resolve": {"axis": {"x": "independent", "y": "independent"}}}
 ], "spacing": 0, "bounds": "flush"},
{"hconcat": [
 {"width": 93, "height": 64, "title": {"text": " "},
  "layer": [
   {"data": {"name": "cond"}, "transform": [{"filter": "datum.p=='d'"}], "mark": {"type": "line", "color": "#222", "strokeWidth": 0.9, "clip": true},
    "encoding": {"x": {"field": "k", "type": "quantitative", "scale": {"domain": [-1, 1]}, "axis": {"orient": "bottom", "values": [-1, -0.5, 0, 0.5], "title": "eV/Δ"}},
     "y": {"field": "v", "type": "quantitative", "scale": {"domain": [0, 2]}, "axis": {"orient": "left", "values": [0, 0.5, 1, 1.5, 2], "title": "G/Gɴ"}}}},
   {"data": {"name": "lab"}, "transform": [{"filter": "datum.p=='d'"}], "mark": {"type": "text", "font": "Liberation Serif, serif", "fontSize": 10, "color": "#333"},
    "encoding": {"x": {"field": "k", "type": "quantitative", "scale": {"domain": [-1, 1]}, "axis": {"orient": "top", "values": [-1, -0.5, 0, 0.5, 1], "labels": false, "title": null}},
     "y": {"field": "v", "type": "quantitative", "scale": {"domain": [0, 2]}, "axis": {"orient": "right", "values": [0, 0.5, 1, 1.5, 2], "labels": false, "title": null}}, "text": {"field": "t"}}}
  ],
  "resolve": {"axis": {"x": "independent", "y": "independent"}}},
 {"width": 93, "height": 64, "title": {"text": "Topological Phase", "color": "#ff0000", "dx": -46.5},
  "layer": [
   {"data": {"name": "cond"}, "transform": [{"filter": "datum.p=='e'"}], "mark": {"type": "line", "color": "#222", "strokeWidth": 0.9, "clip": true},
    "encoding": {"x": {"field": "k", "type": "quantitative", "scale": {"domain": [-1, 1]}, "axis": {"orient": "bottom", "values": [-1, -0.5, 0, 0.5], "title": "eV/Δ"}},
     "y": {"field": "v", "type": "quantitative", "scale": {"domain": [0, 2]}, "axis": {"orient": "left", "values": [0, 0.5, 1, 1.5, 2], "labels": false, "title": null}}}},
   {"data": {"name": "lab"}, "transform": [{"filter": "datum.p=='e'"}], "mark": {"type": "text", "font": "Liberation Serif, serif", "fontSize": 10, "color": "#333"},
    "encoding": {"x": {"field": "k", "type": "quantitative", "scale": {"domain": [-1, 1]}, "axis": {"orient": "top", "values": [-1, -0.5, 0, 0.5, 1], "labels": false, "title": null}},
     "y": {"field": "v", "type": "quantitative", "scale": {"domain": [0, 2]}, "axis": {"orient": "right", "values": [0, 0.5, 1, 1.5, 2], "labels": false, "title": null}}, "text": {"field": "t"}}}
  ],
  "resolve": {"axis": {"x": "independent", "y": "independent"}}},
 {"width": 93, "height": 64, "title": {"text": "Critical Point", "color": "#00e600"},
  "layer": [
   {"data": {"name": "cond"}, "transform": [{"filter": "datum.p=='f'"}], "mark": {"type": "line", "color": "#222", "strokeWidth": 0.9, "clip": true},
    "encoding": {"x": {"field": "k", "type": "quantitative", "scale": {"domain": [-1, 1]}, "axis": {"orient": "bottom", "values": [-1, -0.5, 0, 0.5, 1], "title": "eV/Δ"}},
     "y": {"field": "v", "type": "quantitative", "scale": {"domain": [0, 2]}, "axis": {"orient": "left", "values": [0, 0.5, 1, 1.5, 2], "labels": false, "title": null}}}},
   {"data": {"name": "lab"}, "transform": [{"filter": "datum.p=='f'"}], "mark": {"type": "text", "font": "Liberation Serif, serif", "fontSize": 10, "color": "#333"},
    "encoding": {"x": {"field": "k", "type": "quantitative", "scale": {"domain": [-1, 1]}, "axis": {"orient": "top", "values": [-1, -0.5, 0, 0.5, 1], "labels": false, "title": null}},
     "y": {"field": "v", "type": "quantitative", "scale": {"domain": [0, 2]}, "axis": {"orient": "right", "values": [0, 0.5, 1, 1.5, 2], "labels": false, "title": null}}, "text": {"field": "t"}}}
  ],
  "resolve": {"axis": {"x": "independent", "y": "independent"}}}
 ], "spacing": 0, "bounds": "flush"},
{"hconcat": [
 {"width": 93, "height": 65, "title": {"text": " "},
  "layer": [
   {"data": {"name": "band"}, "transform": [{"filter": "datum.p=='g' && datum.s=='t'"}], "mark": {"type": "area", "color": "#c8c8c8", "clip": true},
    "encoding": {"x": {"field": "k", "type": "quantitative", "scale": {"domain": [-4, 4]}, "axis": {"orient": "bottom", "values": [-4, -2, 0, 2], "title": "κ"}},
     "y": {"field": "v", "type": "quantitative", "scale": {"domain": [-1, 1]}, "axis": {"orient": "left", "values": [-1, -0.5, 0, 0.5, 1], "title": "E/Δ"}}, "y2": {"datum": 1}}},
   {"data": {"name": "band"}, "transform": [{"filter": "datum.p=='g' && datum.s=='b'"}], "mark": {"type": "area", "color": "#c8c8c8", "clip": true},
    "encoding": {"x": {"field": "k", "type": "quantitative", "scale": {"domain": [-4, 4]}, "axis": null}, "y": {"field": "v", "type": "quantitative", "scale": {"domain": [-1, 1]}, "axis": null}, "y2": {"datum": -1}}},
   {"data": {"name": "band"}, "transform": [{"filter": "datum.p=='g'"}], "mark": {"type": "line", "color": "#222", "strokeWidth": 0.9, "clip": true},
    "encoding": {"x": {"field": "k", "type": "quantitative", "scale": {"domain": [-4, 4]}, "axis": null}, "y": {"field": "v", "type": "quantitative", "scale": {"domain": [-1, 1]}, "axis": null}, "detail": {"field": "s"}}},
   {"data": {"name": "red"}, "transform": [{"filter": "datum.p=='g'"}], "mark": {"type": "line", "color": "#ff0000", "strokeWidth": 1.4, "clip": true},
    "encoding": {"x": {"field": "k", "type": "quantitative", "scale": {"domain": [-4, 4]}, "axis": null}, "y": {"field": "v", "type": "quantitative", "scale": {"domain": [-1, 1]}, "axis": null}, "detail": {"field": "q"}}},
   {"data": {"name": "lab"}, "transform": [{"filter": "datum.p=='g'"}], "mark": {"type": "text", "font": "Liberation Serif, serif", "fontSize": 10, "color": "#333"},
    "encoding": {"x": {"field": "k", "type": "quantitative", "scale": {"domain": [-4, 4]}, "axis": {"orient": "top", "values": [-4, -2, 0, 2, 4], "labels": false, "title": null}},
     "y": {"field": "v", "type": "quantitative", "scale": {"domain": [-1, 1]}, "axis": {"orient": "right", "values": [-1, -0.5, 0, 0.5, 1], "labels": false, "title": null}}, "text": {"field": "t"}}}
  ],
  "resolve": {"axis": {"x": "independent", "y": "independent"}}},
 {"width": 93, "height": 65, "title": {"text": "Non–Topological Phase", "color": "#1a1aff"},
  "layer": [
   {"data": {"name": "band"}, "transform": [{"filter": "datum.p=='h' && datum.s=='t'"}], "mark": {"type": "area", "color": "#c8c8c8", "clip": true},
    "encoding": {"x": {"field": "k", "type": "quantitative", "scale": {"domain": [-4, 4]}, "axis": {"orient": "bottom", "values": [-4, -2, 0, 2], "title": "κ"}},
     "y": {"field": "v", "type": "quantitative", "scale": {"domain": [-1, 1]}, "axis": {"orient": "left", "values": [-1, -0.5, 0, 0.5, 1], "labels": false, "title": null}}, "y2": {"datum": 1}}},
   {"data": {"name": "band"}, "transform": [{"filter": "datum.p=='h' && datum.s=='b'"}], "mark": {"type": "area", "color": "#c8c8c8", "clip": true},
    "encoding": {"x": {"field": "k", "type": "quantitative", "scale": {"domain": [-4, 4]}, "axis": null}, "y": {"field": "v", "type": "quantitative", "scale": {"domain": [-1, 1]}, "axis": null}, "y2": {"datum": -1}}},
   {"data": {"name": "band"}, "transform": [{"filter": "datum.p=='h'"}], "mark": {"type": "line", "color": "#222", "strokeWidth": 0.9, "clip": true},
    "encoding": {"x": {"field": "k", "type": "quantitative", "scale": {"domain": [-4, 4]}, "axis": null}, "y": {"field": "v", "type": "quantitative", "scale": {"domain": [-1, 1]}, "axis": null}, "detail": {"field": "s"}}},
   {"data": {"name": "red"}, "transform": [{"filter": "datum.p=='h'"}], "mark": {"type": "line", "color": "#ff0000", "strokeWidth": 1.4, "clip": true},
    "encoding": {"x": {"field": "k", "type": "quantitative", "scale": {"domain": [-4, 4]}, "axis": null}, "y": {"field": "v", "type": "quantitative", "scale": {"domain": [-1, 1]}, "axis": null}, "detail": {"field": "q"}}},
   {"data": {"name": "lab"}, "transform": [{"filter": "datum.p=='h'"}], "mark": {"type": "text", "font": "Liberation Serif, serif", "fontSize": 10, "color": "#333"},
    "encoding": {"x": {"field": "k", "type": "quantitative", "scale": {"domain": [-4, 4]}, "axis": {"orient": "top", "values": [-4, -2, 0, 2, 4], "labels": false, "title": null}},
     "y": {"field": "v", "type": "quantitative", "scale": {"domain": [-1, 1]}, "axis": {"orient": "right", "values": [-1, -0.5, 0, 0.5, 1], "labels": false, "title": null}}, "text": {"field": "t"}}}
  ],
  "resolve": {"axis": {"x": "independent", "y": "independent"}}},
 {"width": 93, "height": 65, "title": {"text": " "},
  "layer": [
   {"data": {"name": "band"}, "transform": [{"filter": "datum.p=='i' && datum.s=='t'"}], "mark": {"type": "area", "color": "#c8c8c8", "clip": true},
    "encoding": {"x": {"field": "k", "type": "quantitative", "scale": {"domain": [-4, 4]}, "axis": {"orient": "bottom", "values": [-4, -2, 0, 2, 4], "title": "κ"}},
     "y": {"field": "v", "type": "quantitative", "scale": {"domain": [-1, 1]}, "axis": {"orient": "left", "values": [-1, -0.5, 0, 0.5, 1], "labels": false, "title": null}}, "y2": {"datum": 1}}},
   {"data": {"name": "band"}, "transform": [{"filter": "datum.p=='i' && datum.s=='b'"}], "mark": {"type": "area", "color": "#c8c8c8", "clip": true},
    "encoding": {"x": {"field": "k", "type": "quantitative", "scale": {"domain": [-4, 4]}, "axis": null}, "y": {"field": "v", "type": "quantitative", "scale": {"domain": [-1, 1]}, "axis": null}, "y2": {"datum": -1}}},
   {"data": {"name": "band"}, "transform": [{"filter": "datum.p=='i'"}], "mark": {"type": "line", "color": "#222", "strokeWidth": 0.9, "clip": true},
    "encoding": {"x": {"field": "k", "type": "quantitative", "scale": {"domain": [-4, 4]}, "axis": null}, "y": {"field": "v", "type": "quantitative", "scale": {"domain": [-1, 1]}, "axis": null}, "detail": {"field": "s"}}},
   {"data": {"name": "red"}, "transform": [{"filter": "datum.p=='i'"}], "mark": {"type": "line", "color": "#ff0000", "strokeWidth": 1.4, "clip": true},
    "encoding": {"x": {"field": "k", "type": "quantitative", "scale": {"domain": [-4, 4]}, "axis": null}, "y": {"field": "v", "type": "quantitative", "scale": {"domain": [-1, 1]}, "axis": null}, "detail": {"field": "q"}}},
   {"data": {"name": "lab"}, "transform": [{"filter": "datum.p=='i'"}], "mark": {"type": "text", "font": "Liberation Serif, serif", "fontSize": 10, "color": "#333"},
    "encoding": {"x": {"field": "k", "type": "quantitative", "scale": {"domain": [-4, 4]}, "axis": {"orient": "top", "values": [-4, -2, 0, 2, 4], "labels": false, "title": null}},
     "y": {"field": "v", "type": "quantitative", "scale": {"domain": [-1, 1]}, "axis": {"orient": "right", "values": [-1, -0.5, 0, 0.5, 1], "labels": false, "title": null}}, "text": {"field": "t"}}}
  ],
  "resolve": {"axis": {"x": "independent", "y": "independent"}}}
 ], "spacing": 0, "bounds": "flush"},
{"hconcat": [
 {"width": 93, "height": 64, "title": {"text": " "},
  "layer": [
   {"data": {"name": "cond"}, "transform": [{"filter": "datum.p=='j'"}], "mark": {"type": "line", "color": "#222", "strokeWidth": 0.9, "clip": true},
    "encoding": {"x": {"field": "k", "type": "quantitative", "scale": {"domain": [-1, 1]}, "axis": {"orient": "bottom", "values": [-1, -0.5, 0, 0.5], "title": "eV/Δ"}},
     "y": {"field": "v", "type": "quantitative", "scale": {"domain": [0, 2]}, "axis": {"orient": "left", "values": [0, 0.5, 1, 1.5, 2], "title": "G/Gɴ"}}}},
   {"data": {"name": "lab"}, "transform": [{"filter": "datum.p=='j'"}], "mark": {"type": "text", "font": "Liberation Serif, serif", "fontSize": 10, "color": "#333"},
    "encoding": {"x": {"field": "k", "type": "quantitative", "scale": {"domain": [-1, 1]}, "axis": {"orient": "top", "values": [-1, -0.5, 0, 0.5, 1], "labels": false, "title": null}},
     "y": {"field": "v", "type": "quantitative", "scale": {"domain": [0, 2]}, "axis": {"orient": "right", "values": [0, 0.5, 1, 1.5, 2], "labels": false, "title": null}}, "text": {"field": "t"}}}
  ],
  "resolve": {"axis": {"x": "independent", "y": "independent"}}},
 {"width": 93, "height": 64, "title": {"text": "Non–Topological Phase", "color": "#1a1aff"},
  "layer": [
   {"data": {"name": "cond"}, "transform": [{"filter": "datum.p=='k'"}], "mark": {"type": "line", "color": "#222", "strokeWidth": 0.9, "clip": true},
    "encoding": {"x": {"field": "k", "type": "quantitative", "scale": {"domain": [-1, 1]}, "axis": {"orient": "bottom", "values": [-1, -0.5, 0, 0.5], "title": "eV/Δ"}},
     "y": {"field": "v", "type": "quantitative", "scale": {"domain": [0, 2]}, "axis": {"orient": "left", "values": [0, 0.5, 1, 1.5, 2], "labels": false, "title": null}}}},
   {"data": {"name": "lab"}, "transform": [{"filter": "datum.p=='k'"}], "mark": {"type": "text", "font": "Liberation Serif, serif", "fontSize": 10, "color": "#333"},
    "encoding": {"x": {"field": "k", "type": "quantitative", "scale": {"domain": [-1, 1]}, "axis": {"orient": "top", "values": [-1, -0.5, 0, 0.5, 1], "labels": false, "title": null}},
     "y": {"field": "v", "type": "quantitative", "scale": {"domain": [0, 2]}, "axis": {"orient": "right", "values": [0, 0.5, 1, 1.5, 2], "labels": false, "title": null}}, "text": {"field": "t"}}}
  ],
  "resolve": {"axis": {"x": "independent", "y": "independent"}}},
 {"width": 93, "height": 64, "title": {"text": " "},
  "layer": [
   {"data": {"name": "cond"}, "transform": [{"filter": "datum.p=='l'"}], "mark": {"type": "line", "color": "#222", "strokeWidth": 0.9, "clip": true},
    "encoding": {"x": {"field": "k", "type": "quantitative", "scale": {"domain": [-1, 1]}, "axis": {"orient": "bottom", "values": [-1, -0.5, 0, 0.5, 1], "title": "eV/Δ"}},
     "y": {"field": "v", "type": "quantitative", "scale": {"domain": [0, 2]}, "axis": {"orient": "left", "values": [0, 0.5, 1, 1.5, 2], "labels": false, "title": null}}}},
   {"data": {"name": "lab"}, "transform": [{"filter": "datum.p=='l'"}], "mark": {"type": "text", "font": "Liberation Serif, serif", "fontSize": 10, "color": "#333"},
    "encoding": {"x": {"field": "k", "type": "quantitative", "scale": {"domain": [-1, 1]}, "axis": {"orient": "top", "values": [-1, -0.5, 0, 0.5, 1], "labels": false, "title": null}},
     "y": {"field": "v", "type": "quantitative", "scale": {"domain": [0, 2]}, "axis": {"orient": "right", "values": [0, 0.5, 1, 1.5, 2], "labels": false, "title": null}}, "text": {"field": "t"}}}
  ],
  "resolve": {"axis": {"x": "independent", "y": "independent"}}}
 ], "spacing": 0, "bounds": "flush"}
]
}
